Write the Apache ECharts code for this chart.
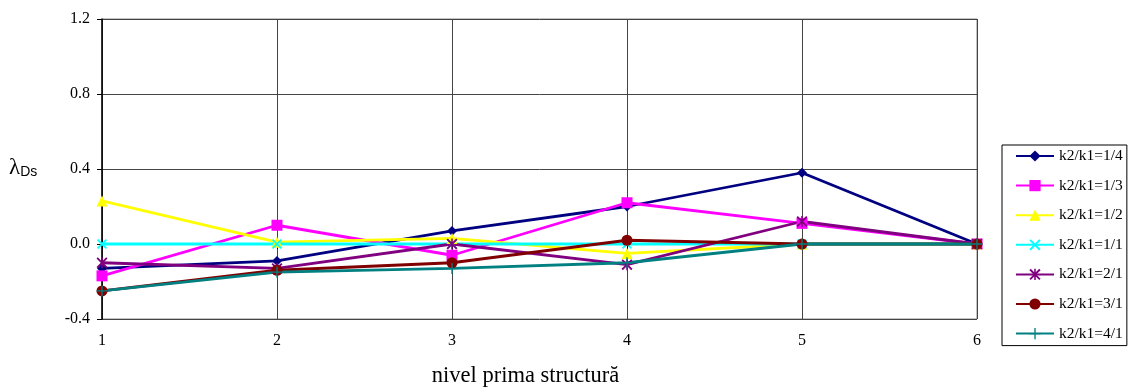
<!DOCTYPE html>
<html>
<head>
<meta charset="utf-8">
<script src="https://cdn.jsdelivr.net/npm/echarts@6/dist/echarts.min.js"></script>
<style>
  html, body { margin: 0; padding: 0; background: #fff; }
  #chart { width: 1131px; height: 389px; }
</style>
</head>
<body>
<div id="chart"></div>
<script>
// nivel prima structura (x)
const levels = ['1', '2', '3', '4', '5', '6']
const yTicks = { min: -0.4, max: 1.2, step: 0.4 }

const k14 = [-0.13, -0.09, 0.07, 0.20, 0.38, 0]
const k13 = [-0.17, 0.10, -0.06, 0.22, 0.11, 0]
const k12 = [0.23, 0.01, 0.03, -0.05, 0, 0]
const k11 = [0, 0, 0, 0, 0, 0]
const k21 = [-0.10, -0.13, 0.00, -0.11, 0.12, 0]
const k31 = [-0.25, -0.14, -0.10, 0.02, 0, 0]
const k41 = [-0.25, -0.15, -0.13, -0.10, 0, 0]

const xMark = 'path://M0,1.2 L1.2,0 L5,3.8 L8.8,0 L10,1.2 L6.2,5 L10,8.8 L8.8,10 L5,6.2 L1.2,10 L0,8.8 L3.8,5 Z'
const starMark = xMark + ' M4.3,0 L5.7,0 L5.7,10 L4.3,10 Z'
const plusMark = 'path://M4.4,0 L5.6,0 L5.6,4.4 L10,4.4 L10,5.6 L5.6,5.6 L5.6,10 L4.4,10 L4.4,5.6 L0,5.6 L0,4.4 L4.4,4.4 Z'

const seriesDefs = [
  { name: 'k2/k1=1/4', data: k14, color: '#000080', symbol: 'diamond', size: 10 },
  { name: 'k2/k1=1/3', data: k13, color: '#ff00ff', symbol: 'rect', size: 11 },
  { name: 'k2/k1=1/2', data: k12, color: '#ffff00', symbol: 'triangle', size: 11 },
  { name: 'k2/k1=1/1', data: k11, color: '#00ffff', symbol: xMark, size: 10 },
  { name: 'k2/k1=2/1', data: k21, color: '#800080', symbol: starMark, size: 11 },
  { name: 'k2/k1=3/1', data: k31, color: '#800000', symbol: 'circle', size: 11 },
  { name: 'k2/k1=4/1', data: k41, color: '#008080', symbol: plusMark, size: 11 }
]

const serif = '"Liberation Serif", "DejaVu Serif", serif'
const gridColor = '#444'

const chart = echarts.init(document.getElementById('chart'), undefined, { renderer: 'canvas' })
chart.setOption({
  backgroundColor: '#fff',
  animation: false,
  grid: {
    left: 102, right: 154, top: 19, bottom: 70,
    outerBoundsMode: 'none', containLabel: false,
    show: true, borderColor: '#888', borderWidth: 1
  },
  xAxis: {
    type: 'category',
    data: levels,
    boundaryGap: false,
    name: 'nivel prima structură',
    nameLocation: 'middle',
    nameGap: 46,
    nameTextStyle: { fontFamily: serif, fontSize: 22.5, color: '#000', padding: [0, 28, 0, 0] },
    axisLine: { lineStyle: { color: '#000', width: 1.5 } },
    axisTick: { show: true, length: 5, lineStyle: { color: '#000' } },
    axisLabel: { fontFamily: serif, fontSize: 16, color: '#000', margin: 14 },
    splitLine: { show: true, lineStyle: { color: gridColor, width: 1 } }
  },
  yAxis: {
    type: 'value',
    min: yTicks.min,
    max: yTicks.max,
    interval: yTicks.step,
    axisLine: { show: true, lineStyle: { color: '#000', width: 1.5 } },
    axisTick: { show: true, length: 5, lineStyle: { color: '#000' } },
    axisLabel: { fontFamily: serif, fontSize: 16, color: '#000', margin: 12, formatter: v => v.toFixed(1) },
    splitLine: { show: true, lineStyle: { color: gridColor, width: 1 } }
  },
  legend: {
    orient: 'vertical',
    left: 1002,
    top: 145,
    width: 126,
    padding: [3, 4, 4, 13],
    itemWidth: 38,
    itemHeight: 14,
    itemGap: 13.6,
    borderColor: '#000',
    borderWidth: 1,
    textStyle: { fontFamily: serif, fontSize: 15.5, color: '#000' },
    data: seriesDefs.map(s => s.name)
  },
  graphic: [{
    type: 'text',
    left: 9,
    top: 156,
    style: {
      text: '{l|λ}{s|Ds}',
      rich: {
        l: { fontFamily: serif, fontSize: 23, fill: '#000' },
        s: { fontFamily: 'Liberation Sans, Arial, sans-serif', fontSize: 14, fill: '#000', padding: [10, 0, 0, 0] }
      }
    }
  }],
  series: seriesDefs.map(s => ({
    name: s.name,
    type: 'line',
    data: s.data,
    symbol: s.symbol,
    symbolSize: s.size,
    showAllSymbol: true,
    lineStyle: { color: s.color, width: 2.8 },
    itemStyle: { color: s.color, borderWidth: 0 }
  }))
})
</script>
</body>
</html>
